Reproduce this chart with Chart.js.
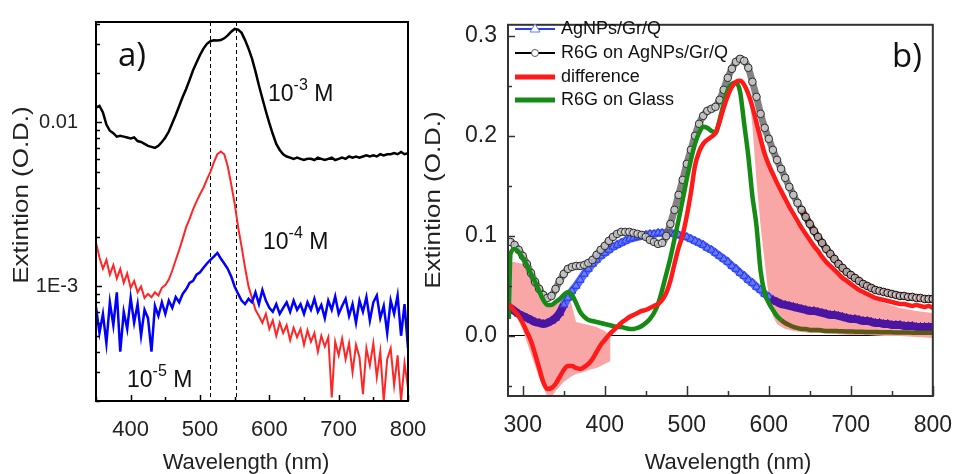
<!DOCTYPE html>
<html>
<head>
<meta charset="utf-8">
<script src="https://cdn.jsdelivr.net/npm/chart.js@4.4.1/dist/chart.umd.min.js"></script>
<style>
  html, body { margin: 0; padding: 0; background: #fff; width: 960px; height: 474px; overflow: hidden; }
  #chartA { position: absolute; left: 0; top: 0; }
  #chartB { position: absolute; left: 410px; top: 0; }
</style>
</head>
<body>
<canvas id="chartA" width="450" height="474"></canvas>
<canvas id="chartB" width="550" height="474"></canvas>
<script>
// ---------- panel a) : R6G on AgNPs at three concentrations (log axis) ----------
const wlA = [350,355,360,365,370,375,380,385,390,395,
  400,405,410,415,420,425,430,435,440,445,
  450,455,460,465,470,475,480,485,490,495,
  500,505,510,515,520,525,530,535,540,545,
  550,555,560,565,570,575,580,585,590,595,
  600,605,610,615,620,625,630,635,640,645,
  650,655,660,665,670,675,680,685,690,695,
  700,705,710,715,720,725,730,735,740,745,
  750,755,760,765,770,775,780,785,790,795,800];

const conc3 = [0.0123,0.0126,0.0115,0.0097,0.0089,0.0086,0.0082,0.0083,0.0082,0.0081,
  0.0080,0.0081,0.0077,0.0076,0.0074,0.0072,0.0071,0.0070,0.0072,0.0076,
  0.0081,0.0088,0.0099,0.0111,0.0126,0.0143,0.0160,0.0182,0.0208,0.0232,
  0.0258,0.0282,0.0302,0.0313,0.0317,0.0316,0.0318,0.0326,0.0340,0.0358,
  0.0372,0.0368,0.0352,0.0318,0.0282,0.0245,0.0205,0.0168,0.0140,0.0117,
  0.0099,0.0085,0.0074,0.0068,0.0064,0.0062,0.0061,0.0060,0.0061,0.0060,
  0.0059,0.0060,0.0060,0.0059,0.0061,0.0060,0.0059,0.0060,0.0061,0.0059,
  0.0060,0.0061,0.0060,0.0062,0.0061,0.0062,0.0061,0.0062,0.0063,0.0062,
  0.0063,0.0062,0.0064,0.0063,0.0064,0.0064,0.0065,0.0064,0.0066,0.0064,0.0065];

const conc4 = [0.00185,0.00150,0.00128,0.00145,0.00118,0.00135,0.00112,0.00128,0.00105,0.00120,
  0.00098,0.00108,0.00092,0.00100,0.00085,0.00090,0.00086,0.00092,0.00088,0.00098,
  0.00102,0.00110,0.00125,0.00145,0.00167,0.00195,0.00230,0.00258,0.00295,0.00330,
  0.00365,0.00400,0.00450,0.00500,0.00570,0.00640,0.00665,0.00640,0.00540,0.00420,
  0.00320,0.00230,0.00175,0.00130,0.00100,0.00085,0.00072,0.00066,0.00060,0.00068,
  0.00055,0.00062,0.00050,0.00060,0.00052,0.00058,0.00047,0.00056,0.00049,0.00055,
  0.00044,0.00054,0.00046,0.00052,0.00040,0.00050,0.00043,0.00049,0.00021,0.00046,
  0.00038,0.00048,0.00036,0.00045,0.00030,0.00044,0.00037,0.00022,0.00042,0.00033,
  0.00045,0.00028,0.00040,0.00020,0.00036,0.00042,0.00025,0.00038,0.00020,0.00034,0.00024];

const conc5 = [0.00075,0.00052,0.00068,0.00045,0.00080,0.00058,0.00092,0.00040,0.00070,0.00055,
  0.00085,0.00060,0.00078,0.00050,0.00072,0.00064,0.00040,0.00076,0.00066,0.00080,
  0.00068,0.00082,0.00074,0.00086,0.00080,0.00090,0.00096,0.00105,0.00108,0.00118,
  0.00122,0.00130,0.00138,0.00145,0.00152,0.00160,0.00148,0.00138,0.00128,0.00115,
  0.00100,0.00090,0.00082,0.00078,0.00084,0.00080,0.00092,0.00078,0.00095,0.00082,
  0.00074,0.00070,0.00078,0.00068,0.00074,0.00080,0.00070,0.00082,0.00072,0.00078,
  0.00068,0.00080,0.00072,0.00084,0.00070,0.00077,0.00064,0.00082,0.00072,0.00087,
  0.00068,0.00076,0.00084,0.00066,0.00078,0.00060,0.00082,0.00070,0.00086,0.00062,
  0.00080,0.00088,0.00064,0.00076,0.00052,0.00082,0.00068,0.00088,0.00050,0.00078,0.00042];

const xTicksA = [350,400,450,500,550,600,650,700,750,800];
const yTicksA = [2e-4,3e-4,4e-4,5e-4,6e-4,7e-4,8e-4,9e-4,1e-3,2e-3,3e-3,4e-3,5e-3,6e-3,7e-3,8e-3,9e-3,0.01,0.02,0.03,0.04];
const yLabelsA = {0.01: '0.01', 0.001: '1E-3'};
const peakLinesA = [515, 552];

// ---------- panel b) : spectra on AgNPs/Gr/Q and glass ----------
const wlB = [283,
  285,290,295,300,305,310,315,320,325,330,
  335,340,345,350,355,360,365,370,375,380,
  385,390,395,400,405,410,415,420,425,430,
  435,440,445,450,455,460,465,470,475,480,
  485,490,495,500,505,510,515,520,525,530,
  535,540,545,550,555,560,565,570,575,580,
  585,590,595,600,605,610,615,620,625,630,
  635,640,645,650,655,660,665,670,675,680,
  685,690,695,700,705,710,715,720,725,730,
  735,740,745,750,755,760,765,770,775,780,
  785,790,795,800];

const agnps = [0.029,
  0.028,0.025,0.022,0.020,0.018,0.016,0.014,0.013,0.012,0.013,
  0.015,0.018,0.023,0.031,0.038,0.045,0.050,0.056,0.062,0.067,
  0.072,0.076,0.080,0.083,0.086,0.089,0.091,0.093,0.095,0.097,
  0.098,0.099,0.100,0.101,0.102,0.102,0.103,0.103,0.103,0.103,
  0.102,0.101,0.100,0.099,0.097,0.095,0.093,0.091,0.088,0.086,
  0.083,0.080,0.077,0.074,0.070,0.067,0.063,0.060,0.056,0.053,
  0.049,0.046,0.042,0.039,0.036,0.034,0.032,0.031,0.030,0.029,
  0.028,0.027,0.026,0.025,0.025,0.024,0.023,0.022,0.021,0.021,
  0.020,0.019,0.018,0.017,0.017,0.016,0.015,0.015,0.014,0.013,
  0.013,0.012,0.012,0.011,0.011,0.011,0.010,0.010,0.010,0.009,
  0.009,0.009,0.009,0.009];

const r6gOnAgnps = [0.094,
  0.094,0.091,0.086,0.080,0.072,0.063,0.054,0.047,0.041,0.038,
  0.040,0.047,0.055,0.062,0.067,0.069,0.070,0.070,0.071,0.073,
  0.076,0.081,0.086,0.090,0.095,0.099,0.102,0.104,0.104,0.104,
  0.103,0.102,0.101,0.099,0.096,0.094,0.092,0.093,0.100,0.112,
  0.126,0.141,0.156,0.172,0.186,0.200,0.212,0.220,0.225,0.227,
  0.229,0.236,0.246,0.258,0.267,0.274,0.277,0.275,0.268,0.254,
  0.239,0.222,0.208,0.197,0.186,0.176,0.167,0.158,0.149,0.141,
  0.133,0.126,0.119,0.112,0.105,0.099,0.093,0.087,0.082,0.077,
  0.072,0.068,0.064,0.061,0.058,0.055,0.052,0.050,0.048,0.046,
  0.045,0.044,0.043,0.042,0.041,0.040,0.040,0.039,0.039,0.038,
  0.038,0.037,0.037,0.037];

const difference = [0.032,
  0.030,0.025,0.020,0.013,0.004,-0.005,-0.018,-0.032,-0.046,-0.053,
  -0.052,-0.048,-0.041,-0.034,-0.030,-0.030,-0.032,-0.033,-0.031,-0.028,
  -0.023,-0.016,-0.009,-0.004,0.001,0.005,0.009,0.013,0.016,0.019,
  0.021,0.023,0.025,0.026,0.028,0.030,0.032,0.036,0.043,0.055,
  0.072,0.088,0.101,0.120,0.143,0.170,0.184,0.192,0.196,0.199,
  0.203,0.214,0.228,0.240,0.249,0.254,0.255,0.251,0.242,0.229,
  0.213,0.197,0.182,0.171,0.162,0.153,0.145,0.137,0.129,0.122,
  0.115,0.108,0.102,0.096,0.090,0.085,0.079,0.074,0.070,0.066,
  0.062,0.058,0.055,0.052,0.049,0.046,0.044,0.042,0.040,0.038,
  0.037,0.036,0.035,0.034,0.033,0.032,0.032,0.031,0.030,0.031,
  0.030,0.029,0.030,0.028];

const r6gOnGlass = [0.017,
  0.082,0.087,0.084,0.078,0.071,0.062,0.054,0.045,0.036,0.031,
  0.031,0.034,0.037,0.041,0.044,0.041,0.033,0.024,0.019,0.016,
  0.015,0.014,0.013,0.012,0.011,0.010,0.009,0.009,0.008,0.007,
  0.007,0.008,0.010,0.013,0.017,0.023,0.032,0.046,0.062,0.078,
  0.097,0.116,0.136,0.157,0.176,0.192,0.203,0.209,0.208,0.205,
  0.203,0.216,0.232,0.246,0.252,0.253,0.244,0.212,0.180,0.140,
  0.110,0.065,0.043,0.033,0.026,0.020,0.016,0.013,0.011,0.009,
  0.008,0.007,0.007,0.006,0.006,0.006,0.0055,0.005,0.005,0.005,
  0.0048,0.0046,0.0045,0.0044,0.0043,0.0042,0.0041,0.0040,0.0040,0.0039,
  0.0038,0.0037,0.0036,0.0036,0.0035,0.0035,0.0034,0.0034,0.0033,0.0033,
  0.0033,0.0032,0.0032,0.0032];

// shaded area (two pieces), upper and lower edges
const shadeWl1 = [286,290,295,300,305,310,315,320,325,330,333,340,350,355,360,365,370,380,390,400,407];
const shadeTop1 = [0.074,0.074,0.073,0.072,0.070,0.062,0.052,0.043,0.035,0.030,0.030,0.032,0.038,0.042,0.030,0.014,0.013,0.011,0.009,0.005,0.000];
const shadeBot1 = [0.026,0.022,0.015,0.006,-0.006,-0.018,-0.030,-0.042,-0.052,-0.060,-0.064,-0.055,-0.046,-0.043,-0.040,-0.038,-0.037,-0.034,-0.032,-0.028,-0.025];
const shadeWl2 = [576,580,585,590,595,600,605,610,620,630,640,650,660,680,700,720,740,760,780,800];
const shadeTop2 = [0.245,0.232,0.214,0.196,0.181,0.168,0.158,0.149,0.132,0.117,0.104,0.093,0.082,0.064,0.050,0.040,0.033,0.028,0.025,0.023];
const shadeBot2 = [0.243,0.210,0.155,0.110,0.074,0.038,0.020,0.012,0.007,0.005,0.004,0.003,0.003,0.002,0.001,0.001,0.000,0.000,-0.001,-0.002];

const xTicksB = [300,350,400,450,500,550,600,650,700,750,800];
const yTicksB = [-0.05,0,0.05,0.1,0.15,0.2,0.25,0.3];

const legendB = ['AgNPs/Gr/Q', 'R6G on AgNPs/Gr/Q', 'difference', 'R6G on Glass'];

// ---------- helpers ----------
const pts = (xs, ys) => xs.map((x, i) => ({x: x, y: ys[i]}));
const ARIAL = '"Liberation Sans", Arial, sans-serif';
const PURPLE = '#4a16a2';

// frame box + inward tick marks
const frameTicks = {
  id: 'frameTicks',
  afterDatasetsDraw(chart, args, o) {
    const {ctx, chartArea: a} = chart;
    const xs = chart.scales.x, ys = chart.scales.y;
    ctx.save();
    ctx.strokeStyle = o.color;
    ctx.lineWidth = 1.5;
    xs.ticks.forEach(t => {
      const p = Math.round(xs.getPixelForValue(t.value)) + 0.5;
      const len = t.label !== '' ? o.xMajor : o.xMinor;
      ctx.beginPath(); ctx.moveTo(p, a.bottom); ctx.lineTo(p, a.bottom - len); ctx.stroke();
    });
    ys.ticks.forEach(t => {
      const p = Math.round(ys.getPixelForValue(t.value)) + 0.5;
      const len = t.label !== '' ? o.yMajor : o.yMinor;
      ctx.beginPath(); ctx.moveTo(a.left, p); ctx.lineTo(a.left + len, p); ctx.stroke();
    });
    ctx.lineWidth = 2;
    ctx.strokeRect(a.left, a.top, a.right - a.left, a.bottom - a.top);
    ctx.restore();
  }
};

function axisTitles(ctx, xt, yt) {
  ctx.save();
  ctx.fillStyle = '#222';
  ctx.font = '22px ' + ARIAL;
  ctx.textAlign = 'center';
  ctx.textBaseline = 'middle';
  ctx.fillText('Wavelength (nm)', xt[0], xt[1]);
  ctx.translate(yt[0], yt[1]);
  ctx.rotate(-Math.PI / 2);
  ctx.scale(1.18, 1);
  ctx.fillText('Extintion (O.D.)', 0, 0);
  ctx.restore();
}

function concLabel(ctx, x, y, exp) {
  ctx.save();
  ctx.fillStyle = '#111';
  ctx.textBaseline = 'alphabetic';
  ctx.font = '23px ' + ARIAL;
  ctx.fillText('10', x, y);
  const w = ctx.measureText('10').width;
  ctx.font = '16px ' + ARIAL;
  ctx.fillText(exp, x + w, y - 11);
  const w2 = ctx.measureText(exp).width;
  ctx.font = '23px ' + ARIAL;
  ctx.fillText(' M', x + w + w2, y);
  ctx.restore();
}

// ---------- chart a ----------
const decorA = {
  id: 'decorA',
  beforeDatasetsDraw(chart) {
    const {ctx, chartArea: a} = chart;
    ctx.save();
    ctx.strokeStyle = '#000';
    ctx.lineWidth = 1;
    ctx.setLineDash([4, 3]);
    peakLinesA.forEach(v => {
      const p = Math.round(chart.scales.x.getPixelForValue(v)) + 0.5;
      ctx.beginPath(); ctx.moveTo(p, a.top); ctx.lineTo(p, a.bottom); ctx.stroke();
    });
    ctx.restore();
  },
  afterDraw(chart) {
    const ctx = chart.ctx;
    axisTitles(ctx, [246, 463], [22, 195]);
    ctx.save();
    ctx.fillStyle = '#111';
    ctx.font = '33px "Open Sans", sans-serif';
    ctx.fillText('a)', 118, 66);
    ctx.restore();
    concLabel(ctx, 268, 101, '-3');
    concLabel(ctx, 263, 249, '-4');
    concLabel(ctx, 127, 387, '-5');
  }
};

new Chart(document.getElementById('chartA'), {
  type: 'line',
  data: {
    datasets: [
      {label: '10-5 M', data: pts(wlA, conc5), borderColor: '#0000ff', borderWidth: 2.5},
      {label: '10-4 M', data: pts(wlA, conc4), borderColor: '#ff2626', borderWidth: 2},
      {label: '10-3 M', data: pts(wlA, conc3), borderColor: '#000000', borderWidth: 2.5}
    ]
  },
  options: {
    responsive: false,
    animation: false,
    layout: {padding: {left: 0, right: 42, top: 15, bottom: 0}},
    elements: {point: {radius: 0}, line: {tension: 0}},
    plugins: {
      legend: {display: false},
      tooltip: {enabled: false},
      frameTicks: {color: '#000', xMajor: 6, xMinor: 4, yMajor: 6, yMinor: 4}
    },
    scales: {
      x: {
        type: 'linear', min: 350, max: 800,
        afterBuildTicks: s => { s.ticks = xTicksA.map(v => ({value: v})); },
        afterFit: s => { s.height = 73; },
        grid: {display: false}, border: {display: false},
        ticks: {autoSkip: false, maxRotation: 0, padding: 8, color: '#222',
          font: {family: ARIAL, size: 22},
          callback: v => (v % 100 === 0 ? String(v) : '')}
      },
      y: {
        type: 'logarithmic', min: 2e-4, max: 0.041,
        afterBuildTicks: s => { s.ticks = yTicksA.map(v => ({value: v})); },
        afterFit: s => { s.width = 96; },
        grid: {display: false}, border: {display: false},
        ticks: {autoSkip: false, padding: 10, color: '#222',
          font: {family: ARIAL, size: 20},
          callback: v => yLabelsA[v] || ''}
      }
    }
  },
  plugins: [frameTicks, decorA]
});

// ---------- chart b ----------
const inPurple = x => x < 347 || x >= 605;

const decorB = {
  id: 'decorB',
  afterDraw(chart) {
    const ctx = chart.ctx;
    axisTitles(ctx, [318, 463], [24, 200]);
    ctx.save();
    ctx.fillStyle = '#111';
    ctx.font = '33px "Open Sans", sans-serif';
    ctx.fillText('b)', 482, 67);
    // legend
    const rows = [29, 53, 77, 100];
    const x0 = 105, x1 = 145, tx = 151;
    ctx.font = '18px ' + ARIAL;
    ctx.textBaseline = 'middle';
    rows.forEach((y, i) => {
      ctx.beginPath();
      ctx.moveTo(x0, y); ctx.lineTo(x1, y);
      if (i === 0) { ctx.strokeStyle = '#2a3cf0'; ctx.lineWidth = 2; }
      if (i === 1) { ctx.strokeStyle = '#000'; ctx.lineWidth = 2; }
      if (i === 2) { ctx.strokeStyle = '#ff1a1a'; ctx.lineWidth = 5; }
      if (i === 3) { ctx.strokeStyle = '#158a15'; ctx.lineWidth = 5; }
      ctx.stroke();
      if (i === 0) {
        ctx.beginPath();
        ctx.moveTo(125, y - 5); ctx.lineTo(130, y + 3); ctx.lineTo(120, y + 3); ctx.closePath();
        ctx.fillStyle = '#fff'; ctx.fill();
        ctx.strokeStyle = '#6677ff'; ctx.lineWidth = 1; ctx.stroke();
      }
      if (i === 1) {
        ctx.beginPath(); ctx.arc(125, y, 3.5, 0, Math.PI * 2);
        ctx.fillStyle = '#fff'; ctx.fill();
        ctx.strokeStyle = '#555'; ctx.lineWidth = 1; ctx.stroke();
      }
      ctx.fillStyle = '#111';
      ctx.fillText(legendB[i], tx, y);
    });
    ctx.restore();
  }
};

new Chart(document.getElementById('chartB'), {
  type: 'line',
  data: {
    datasets: [
      {label: legendB[2], data: pts(wlB, difference), borderColor: '#ff1a1a', borderWidth: 4.5,
        pointRadius: 0, cubicInterpolationMode: 'monotone'},
      {label: legendB[3], data: pts(wlB, r6gOnGlass), borderColor: '#158a15', borderWidth: 4.5,
        pointRadius: 0, cubicInterpolationMode: 'monotone',
        segment: {borderColor: c => (c.p0.parsed.x >= 615 ? '#5a5a16' : undefined)}},
      {label: legendB[1], data: pts(wlB, r6gOnAgnps), borderColor: 'rgba(100,100,100,0.8)', borderWidth: 7,
        cubicInterpolationMode: 'monotone',
        pointStyle: 'circle', pointRadius: 3.8, pointBorderWidth: 1,
        pointBorderColor: c => (c.raw && c.raw.x >= 640 ? '#1c0606' : '#2a2a2a'),
        pointBackgroundColor: 'rgba(235,235,235,0.6)',
        segment: {borderColor: c => (c.p0.parsed.x >= 640 ? 'rgba(40,10,10,0.85)' : undefined)}},
      {label: legendB[0], data: pts(wlB, agnps), borderColor: 'rgba(70,92,246,0.9)', borderWidth: 8,
        cubicInterpolationMode: 'monotone',
        pointStyle: 'triangle', pointRadius: 4.5, pointBorderWidth: 1,
        pointBorderColor: c => (c.raw && inPurple(c.raw.x) ? PURPLE : '#2233ee'),
        pointBackgroundColor: c => (c.raw && inPurple(c.raw.x) ? PURPLE : 'rgba(120,140,255,0.6)'),
        segment: {borderColor: c => (inPurple(c.p0.parsed.x) ? PURPLE : undefined)}},
      {label: 'shade1', data: pts(shadeWl1, shadeTop1), borderWidth: 0, pointRadius: 0,
        fill: '+1', backgroundColor: '#f8a6a6'},
      {label: 'shade1b', data: pts(shadeWl1, shadeBot1), borderWidth: 0, pointRadius: 0},
      {label: 'shade2', data: pts(shadeWl2, shadeTop2), borderWidth: 0, pointRadius: 0,
        fill: '+1', backgroundColor: '#f8a6a6'},
      {label: 'shade2b', data: pts(shadeWl2, shadeBot2), borderWidth: 0, pointRadius: 0}
    ]
  },
  options: {
    responsive: false,
    animation: false,
    layout: {padding: {left: 0, right: 21, top: 14, bottom: 0}},
    elements: {line: {tension: 0}},
    plugins: {
      legend: {display: false},
      tooltip: {enabled: false},
      filler: {drawTime: 'beforeDatasetsDraw'},
      frameTicks: {color: '#333', xMajor: 10, xMinor: 5, yMajor: 7, yMinor: 4}
    },
    scales: {
      x: {
        type: 'linear', min: 282, max: 800,
        afterBuildTicks: s => { s.ticks = xTicksB.map(v => ({value: v})); },
        afterFit: s => { s.height = 78; },
        grid: {display: false}, border: {display: false},
        ticks: {autoSkip: false, maxRotation: 0, padding: 8, color: '#222',
          font: {family: ARIAL, size: 23},
          callback: v => (v % 100 === 0 ? String(v) : '')}
      },
      y: {
        type: 'linear', min: -0.06, max: 0.311,
        afterBuildTicks: s => { s.ticks = yTicksB.map(v => ({value: v})); },
        afterFit: s => { s.width = 98; },
        grid: {drawTicks: false, lineWidth: 1,
          color: c => (c.tick && c.tick.value === 0 ? '#000' : 'rgba(0,0,0,0)')},
        border: {display: false},
        ticks: {autoSkip: false, padding: 11, color: '#222',
          font: {family: ARIAL, size: 23},
          callback: v => (v >= 0 && Math.abs(v * 10 - Math.round(v * 10)) < 1e-9 ? v.toFixed(1) : '')}
      }
    }
  },
  plugins: [frameTicks, decorB]
});
</script>
</body>
</html>
